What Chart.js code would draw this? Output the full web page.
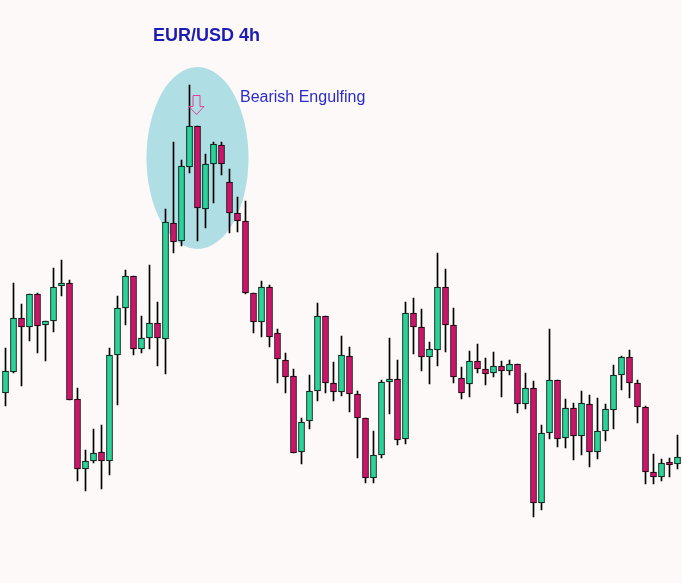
<!DOCTYPE html>
<html>
<head>
<meta charset="utf-8">
<title>EUR/USD 4h</title>
<script src="https://cdn.jsdelivr.net/npm/chart.js@4.4.0/dist/chart.umd.min.js"></script>
<style>
  html, body { margin: 0; padding: 0; background: #fdf9f8; }
  #wrap { position: relative; width: 682px; height: 583px; }
</style>
</head>
<body>
<div id="wrap"><canvas id="candles" width="682" height="583"></canvas></div>
<script>
// 4h candles
const opens = [1.3127, 1.3148, 1.3202, 1.3193, 1.3226, 1.3195, 1.3199, 1.3234, 1.3237, 1.3121,
  1.3051, 1.3059, 1.3068, 1.3059, 1.3165, 1.3212, 1.3244, 1.3171, 1.3182, 1.3197,
  1.3181, 1.3297, 1.3279, 1.3353, 1.3394, 1.3311, 1.3356, 1.3375, 1.3338, 1.3307,
  1.3299, 1.3227, 1.3198, 1.3233, 1.3187, 1.3160, 1.3144, 1.3068, 1.3099, 1.3129,
  1.3204, 1.3137, 1.3128, 1.3164, 1.3126, 1.3102, 1.3042, 1.3065, 1.3138, 1.3141,
  1.3081, 1.3207, 1.3193, 1.3163, 1.3170, 1.3233, 1.3195, 1.3142, 1.3136, 1.3159,
  1.3151, 1.3147, 1.3154, 1.3149, 1.3156, 1.3116, 1.3132, 1.3017, 1.3087, 1.3140,
  1.3082, 1.3112, 1.3084, 1.3116, 1.3068, 1.3089, 1.3110, 1.3145, 1.3163, 1.3137,
  1.3113, 1.3048, 1.3043, 1.3058, 1.3056];
const highs = [1.3172, 1.3237, 1.3216, 1.3226, 1.3227, 1.3199, 1.3252, 1.3260, 1.3240, 1.3132,
  1.3070, 1.3091, 1.3095, 1.3172, 1.3224, 1.3250, 1.3244, 1.3204, 1.3255, 1.3218,
  1.3311, 1.3378, 1.3360, 1.3435, 1.3394, 1.3366, 1.3378, 1.3378, 1.3351, 1.3323,
  1.3319, 1.3227, 1.3239, 1.3235, 1.3191, 1.3167, 1.3151, 1.3102, 1.3145, 1.3217,
  1.3204, 1.3158, 1.3184, 1.3173, 1.3129, 1.3102, 1.3089, 1.3140, 1.3182, 1.3160,
  1.3218, 1.3222, 1.3211, 1.3178, 1.3267, 1.3251, 1.3212, 1.3153, 1.3169, 1.3176,
  1.3162, 1.3168, 1.3159, 1.3160, 1.3156, 1.3147, 1.3139, 1.3095, 1.3191, 1.3140,
  1.3121, 1.3117, 1.3129, 1.3125, 1.3122, 1.3116, 1.3155, 1.3164, 1.3170, 1.3140,
  1.3114, 1.3066, 1.3061, 1.3062, 1.3085];
const lows = [1.3114, 1.3147, 1.3134, 1.3179, 1.3167, 1.3159, 1.3188, 1.3224, 1.3120, 1.3039,
  1.3029, 1.3057, 1.3031, 1.3045, 1.3115, 1.3195, 1.3165, 1.3167, 1.3171, 1.3154,
  1.3146, 1.3267, 1.3274, 1.3347, 1.3279, 1.3292, 1.3317, 1.3345, 1.3287, 1.3288,
  1.3226, 1.3187, 1.3183, 1.3173, 1.3137, 1.3127, 1.3067, 1.3056, 1.3091, 1.3119,
  1.3127, 1.3119, 1.3124, 1.3108, 1.3062, 1.3037, 1.3037, 1.3062, 1.3106, 1.3075,
  1.3076, 1.3166, 1.3149, 1.3136, 1.3154, 1.3168, 1.3137, 1.3121, 1.3123, 1.3147,
  1.3135, 1.3143, 1.3123, 1.3145, 1.3107, 1.3111, 1.3003, 1.3010, 1.3081, 1.3073,
  1.3072, 1.3060, 1.3065, 1.3053, 1.3061, 1.3079, 1.3091, 1.3130, 1.3122, 1.3097,
  1.3036, 1.3036, 1.3039, 1.3043, 1.3051];
const closes = [1.3149, 1.3202, 1.3193, 1.3226, 1.3194, 1.3199, 1.3233, 1.3237, 1.3120, 1.3051,
  1.3059, 1.3067, 1.3059, 1.3165, 1.3212, 1.3244, 1.3171, 1.3182, 1.3197, 1.3182,
  1.3298, 1.3278, 1.3354, 1.3394, 1.3312, 1.3356, 1.3376, 1.3356, 1.3307, 1.3299,
  1.3227, 1.3198, 1.3233, 1.3183, 1.3161, 1.3143, 1.3067, 1.3098, 1.3129, 1.3204,
  1.3137, 1.3128, 1.3165, 1.3126, 1.3102, 1.3042, 1.3065, 1.3138, 1.3141, 1.3080,
  1.3207, 1.3193, 1.3163, 1.3171, 1.3233, 1.3195, 1.3143, 1.3127, 1.3159, 1.3151,
  1.3146, 1.3154, 1.3149, 1.3156, 1.3116, 1.3132, 1.3017, 1.3087, 1.3140, 1.3081,
  1.3112, 1.3084, 1.3117, 1.3068, 1.3089, 1.3111, 1.3145, 1.3163, 1.3137, 1.3113,
  1.3048, 1.3043, 1.3057, 1.3055, 1.3063];
const labels = opens.map((o, i) => 'C' + (i + 1));

const patternIndex = 24; // the engulfing candle
const patternText = 'Bearish Engulfing';
const chartTitle = 'EUR/USD 4h';

const upColor = '#27d49a';
const downColor = '#d0136a';

const bodies = opens.map((o, i) => [o, closes[i]]);
const wicks = lows.map((l, i) => [l, highs[i]]);
const bodyColors = opens.map((o, i) => closes[i] >= o ? upColor : downColor);

// ellipse, arrow and texts
const marks = {
  id: 'marks',
  beforeDatasetsDraw(chart) {
    const { ctx, scales } = chart;
    const cx = scales.x.getPixelForValue(patternIndex);
    const cy = scales.y.getPixelForValue(1.3362);
    ctx.save();
    ctx.fillStyle = '#b0dee5';
    ctx.beginPath();
    ctx.ellipse(cx, cy, 51, 91, 0, 0, Math.PI * 2);
    ctx.fill();
    ctx.restore();
  },
  afterDatasetsDraw(chart) {
    const { ctx, scales } = chart;
    const ax = Math.round(scales.x.getPixelForValue(patternIndex)) - 0.5;
    const top = Math.round(scales.y.getPixelForValue(highs[patternIndex])) - 30.5;
    ctx.save();
    ctx.strokeStyle = '#e0409a';
    ctx.lineWidth = 1;
    ctx.beginPath();
    ctx.moveTo(ax - 3.5, top);
    ctx.lineTo(ax + 3.5, top);
    ctx.lineTo(ax + 3.5, top + 11);
    ctx.lineTo(ax + 7.5, top + 11);
    ctx.lineTo(ax, top + 19);
    ctx.lineTo(ax - 7.5, top + 11);
    ctx.lineTo(ax - 3.5, top + 11);
    ctx.closePath();
    ctx.stroke();

    ctx.textBaseline = 'alphabetic';
    ctx.fillStyle = '#2b2bcc';
    ctx.font = '16px "Liberation Sans", Arial, sans-serif';
    ctx.fillText(patternText, 240, 102);

    ctx.fillStyle = '#1c1cb4';
    ctx.font = 'bold 18px "Liberation Sans", Arial, sans-serif';
    ctx.fillText(chartTitle, 153, 41);
    ctx.restore();
  }
};

new Chart(document.getElementById('candles'), {
  type: 'bar',
  data: {
    labels: labels,
    datasets: [{
      label: 'Body',
      data: bodies,
      backgroundColor: bodyColors,
      borderColor: '#000',
      borderWidth: 1,
      borderSkipped: false,
      barThickness: 6,
      grouped: false,
      order: 0
    },
    {
      label: 'Wick',
      data: wicks,
      backgroundColor: '#000',
      borderWidth: 0,
      barThickness: 1,
      grouped: false,
      order: 1
    }]
  },
  options: {
    responsive: false,
    animation: false,
    devicePixelRatio: 1,
    layout: { padding: { left: 1.5, right: 0.5, top: 0, bottom: 0 } },
    plugins: {
      legend: { display: false },
      tooltip: { enabled: false },
      title: { display: false }
    },
    scales: {
      x: { display: false, offset: true },
      y: { display: false, min: 1.2937, max: 1.3520 }
    }
  },
  plugins: [marks]
});
</script>
</body>
</html>
